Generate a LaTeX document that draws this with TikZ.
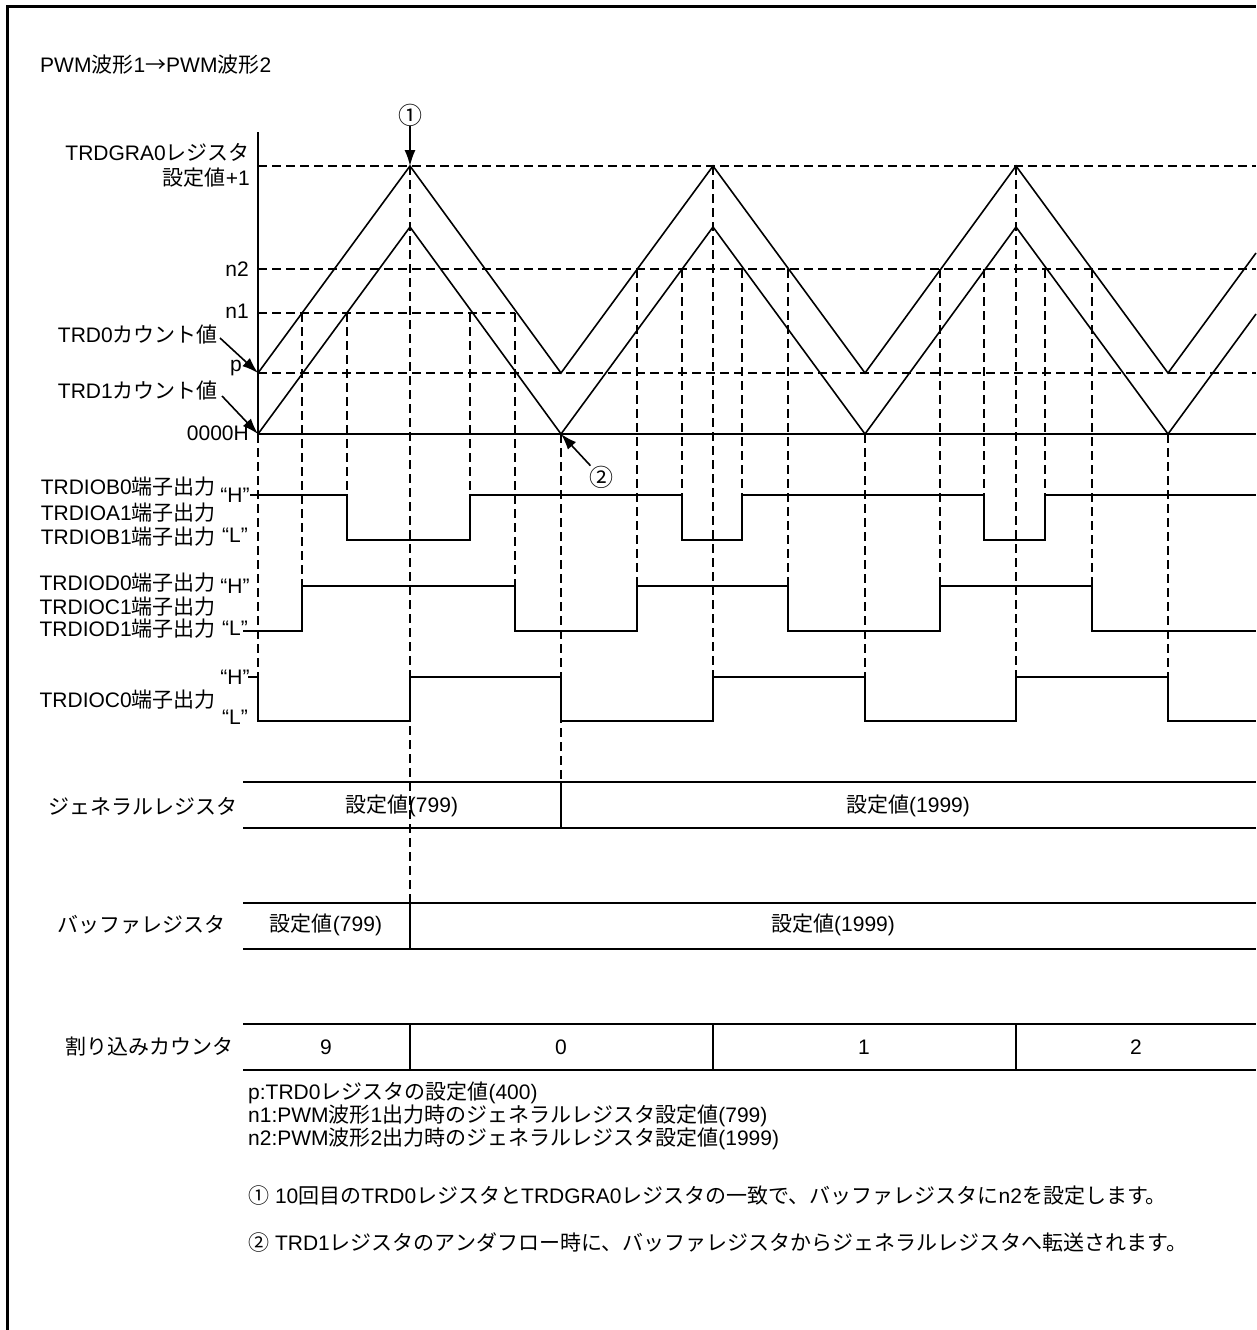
\documentclass[tikz,border=0pt]{standalone}
\usepackage{fontspec}
\setmainfont{Liberation Sans}
\newfontfamily\jpfont{Noto Sans CJK JP}
\usetikzlibrary{arrows.meta}
% Japanese characters switch to the CJK font by themselves
\XeTeXinterchartokenstate=1
\chardef\jpclass=7
\newcount\jpc
\def\setcls#1#2#3{\jpc=#1 \loop\XeTeXcharclass\jpc=#3 \ifnum\jpc<#2 \advance\jpc by 1 \repeat}
\setcls{"0021}{"024F}{0}
\setcls{"2000}{"2BFF}{0}
\setcls{"3000}{"30FF}{\jpclass}
\setcls{"4E00}{"9FFF}{\jpclass}
\setcls{"FF00}{"FFEF}{\jpclass}
\setcls{"2460}{"2473}{\jpclass}
\XeTeXcharclass"2192=\jpclass
\XeTeXinterchartoks 0 \jpclass = {\jpfont}
\XeTeXinterchartoks 4095 \jpclass = {\jpfont}
\XeTeXinterchartoks \jpclass 0 = {\rmfamily}
\XeTeXinterchartoks \jpclass 4095 = {\rmfamily}
\newcommand\fs{\fontsize{21}{25}\selectfont}
\tikzset{
  lbl/.style={font=\fs, inner sep=0pt},
  circno/.style={font=\fontsize{24}{28}\selectfont, inner sep=0pt},
  wave/.style={line width=1.6pt},
  guide/.style={line width=1.4pt, dash pattern=on 9pt off 5pt},
  reg/.style={line width=1.9pt},
  arr/.style={-{Latex[length=16pt,width=11pt]}, line width=1.6pt}
}
\begin{document}
\begin{tikzpicture}[x=1pt,y=-1pt]
\useasboundingbox (0,0) rectangle (1256,1330);
\draw[line width=3pt] (7,1330) -- (7,7) -- (1256,7);
\node[lbl, anchor=west] (title) at (40,65) {PWM波形1→PWM波形2};

% counter levels
\node[lbl, anchor=east, align=right] (gra) at (250,165) {TRDGRA0レジスタ\\設定値+1};
\node[lbl, anchor=east] (ln2) at (249,269) {n2};
\node[lbl, anchor=east] (ln1) at (249,311) {n1};
\node[lbl, anchor=east] (cnt0) at (218,335) {TRD0カウント値};
\node[lbl] (lp) at (236,368) {p};
\node[lbl, anchor=east] (cnt1) at (218,391) {TRD1カウント値};
\node[lbl, anchor=east] (lzero) at (249,433) {0000H};
\coordinate (p0) at (258,373);
\coordinate (z0) at (258,434);
\draw[arr] ([xshift=2pt,yshift=-3pt]cnt0.east) -- (p0);
\draw[arr] ([xshift=4pt,yshift=-5pt]cnt1.east) -- (z0);

\draw[wave] (258,132) -- (258,434) -- (1256,434);
\draw[guide] (258,166) -- (1256,166);
\draw[guide] (258,269) -- (1256,269);
\draw[guide] (258,313) -- (515,313);
\draw[guide] (258,373) -- (1256,373);

% TRD0 and TRD1 counts
\draw[wave] (258,373) -- (410,166) -- (561,373) -- (713,166) -- (865,373) -- (1016,166) -- (1168,373) -- (1256,253);
\draw[wave] (258,434) -- (410,227) -- (561,434) -- (713,227) -- (865,434) -- (1016,227) -- (1168,434) -- (1256,314);

% guides down to the outputs
\draw[guide] (258,434) -- (258,677);
\draw[guide] (302,313) -- (302,586);
\draw[guide] (347,313) -- (347,495);
\draw[guide] (410,166) -- (410,903);
\draw[guide] (470,313) -- (470,495);
\draw[guide] (515,313) -- (515,586);
\draw[guide] (561,434) -- (561,782);
\draw[guide] (637,269) -- (637,586);
\draw[guide] (682,269) -- (682,495);
\draw[guide] (713,166) -- (713,677);
\draw[guide] (742,269) -- (742,495);
\draw[guide] (788,269) -- (788,586);
\draw[guide] (865,434) -- (865,677);
\draw[guide] (940,269) -- (940,586);
\draw[guide] (984,269) -- (984,495);
\draw[guide] (1016,166) -- (1016,677);
\draw[guide] (1045,269) -- (1045,495);
\draw[guide] (1092,269) -- (1092,586);
\draw[guide] (1168,434) -- (1168,677);

\node[circno] (m1) at (410,115) {①};
\coordinate (top1) at (410,166);
\draw[arr] (m1) -- (top1);
\node[circno] (m2) at (601,477) {②};
\coordinate (bot1) at (561,434);
\draw[arr] (m2) -- (bot1);

% pin outputs
\node[lbl, anchor=east] (b0) at (216,487) {TRDIOB0端子出力};
\node[lbl, anchor=east] (a1) at (216,513) {TRDIOA1端子出力};
\node[lbl, anchor=east] (b1) at (216,537) {TRDIOB1端子出力};
\node[lbl] (b0h) at (235,495) {“H”};
\node[lbl] (b0l) at (235,535) {“L”};
\draw[wave] (250,495) -- (347,495) -- (347,540) -- (470,540) -- (470,495) -- (682,495) -- (682,540) -- (742,540) -- (742,495) -- (984,495) -- (984,540) -- (1045,540) -- (1045,495) -- (1256,495);

\node[lbl, anchor=east] (d0) at (216,583) {TRDIOD0端子出力};
\node[lbl, anchor=east] (c1) at (216,607) {TRDIOC1端子出力};
\node[lbl, anchor=east] (d1) at (216,629) {TRDIOD1端子出力};
\node[lbl] (d0h) at (235,586) {“H”};
\node[lbl] (d0l) at (235,628) {“L”};
\draw[wave] (243,631) -- (302,631) -- (302,586) -- (515,586) -- (515,631) -- (637,631) -- (637,586) -- (788,586) -- (788,631) -- (940,631) -- (940,586) -- (1092,586) -- (1092,631) -- (1256,631);

\node[lbl] (c0h) at (235,677) {“H”};
\node[lbl, anchor=east] (c0) at (216,700) {TRDIOC0端子出力};
\node[lbl] (c0l) at (235,717) {“L”};
\draw[wave] (248,677) -- (258,677) -- (258,721) -- (410,721) -- (410,677) -- (561,677) -- (561,721) -- (713,721) -- (713,677) -- (865,677) -- (865,721) -- (1016,721) -- (1016,677) -- (1168,677) -- (1168,721) -- (1256,721);

% registers
\node[lbl, anchor=east] (gen) at (238,806) {ジェネラルレジスタ};
\draw[reg] (243,782) -- (1256,782);
\draw[reg] (243,828) -- (1256,828);
\draw[reg] (561,782) -- (561,828);
\node[lbl] (gen1) at (402,806) {設定値(799)};
\node[lbl] (gen2) at (908,806) {設定値(1999)};

\node[lbl, anchor=east] (buf) at (226,925) {バッファレジスタ};
\draw[reg] (243,903) -- (1256,903);
\draw[reg] (243,949) -- (1256,949);
\draw[reg] (410,903) -- (410,949);
\node[lbl] (buf1) at (326,925) {設定値(799)};
\node[lbl] (buf2) at (833,925) {設定値(1999)};

\node[lbl, anchor=east] (irq) at (234,1047) {割り込みカウンタ};
\draw[reg] (243,1024) -- (1256,1024);
\draw[reg] (243,1070) -- (1256,1070);
\draw[reg] (410,1024) -- (410,1070);
\draw[reg] (713,1024) -- (713,1070);
\draw[reg] (1016,1024) -- (1016,1070);
\node[lbl] (irq9) at (326,1047) {9};
\node[lbl] (irq0) at (561,1047) {0};
\node[lbl] (irq1) at (864,1047) {1};
\node[lbl] (irq2) at (1136,1047) {2};

% notes
\node[lbl, anchor=west] (np) at (248,1093) {p:TRD0レジスタの設定値(400)};
\node[lbl, anchor=west] (nn1) at (248,1116) {n1:PWM波形1出力時のジェネラルレジスタ設定値(799)};
\node[lbl, anchor=west] (nn2) at (248,1139) {n2:PWM波形2出力時のジェネラルレジスタ設定値(1999)};
\node[lbl, anchor=west] (note1) at (248,1196) {① 10回目のTRD0レジスタとTRDGRA0レジスタの一致で、バッファレジスタにn2を設定します。};
\node[lbl, anchor=west] (note2) at (248,1243) {② TRD1レジスタのアンダフロー時に、バッファレジスタからジェネラルレジスタへ転送されます。};
\end{tikzpicture}
\end{document}
